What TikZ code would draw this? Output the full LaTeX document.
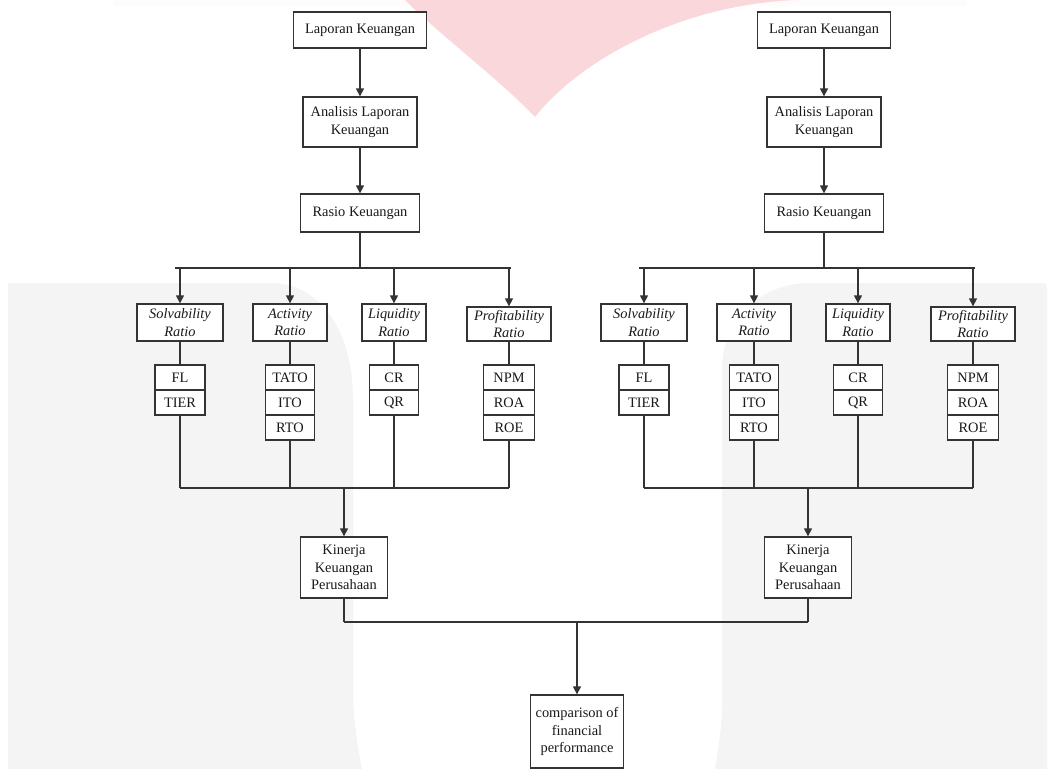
\documentclass[tikz,border=0pt]{standalone}
\usepackage{fontspec}
\setmainfont{Liberation Serif}
\usetikzlibrary{arrows.meta}
\definecolor{wmpink}{RGB}{250,215,219}
\definecolor{wmgray}{RGB}{244,244,244}
\begin{document}
\begin{tikzpicture}[x=0.75pt,y=-0.75pt,
  bx/.style={draw=black!80, line width=1pt, fill=white, inner sep=1pt, align=center,
    text=black!90, font=\fontsize{10.8}{13}\selectfont},
  itbx/.style={bx, font=\fontsize{10.8}{13}\selectfont\itshape},
  sz/.style 2 args={minimum width=#1*0.75pt, minimum height=#2*0.75pt},
  ln/.style={draw=black!80, line width=1pt},
  arr/.style={ln, -{Triangle[length=6pt,width=6pt]}},
]
% canvas and watermark
\useasboundingbox (0,0) rectangle (1052,769);
\fill[white] (0,0) rectangle (1052,769);
\fill[wmpink!10] (114,0) rectangle (966,6);
\fill[wmpink] (405,0) .. controls (440,35) and (500,80) .. (535,117)
  .. controls (580,60) and (680,5) .. (795,0) -- cycle;
\fill[wmgray] (8,769) -- (8,283) -- (270,283) .. controls (320,283) and (353,330) .. (353,400)
  -- (353,700) .. controls (355,730) and (358,750) .. (362,769) -- cycle;
\fill[wmgray] (715,769) .. controls (718,750) and (722,730) .. (722,700) -- (722,370)
  .. controls (722,320) and (760,283) .. (810,283) -- (1042,283)
  .. controls (1045,283) and (1047,285) .. (1047,288) -- (1047,769) -- cycle;

\foreach \s/\d in {L/0,R/464}{
\begin{scope}[xshift=\d*0.75pt]
  \node[bx,sz={133}{36}] (\s-lap) at (360,30) {Laporan Keuangan};
  \node[bx,sz={114}{50}] (\s-ana) at (360,122) {Analisis Laporan\\Keuangan};
  \node[bx,sz={119}{38}] (\s-ras) at (360,213) {Rasio Keuangan};
  \draw[arr] (\s-lap) -- (\s-ana);
  \draw[arr] (\s-ana) -- (\s-ras);
  \coordinate (\s-ha) at (175,268);
  \coordinate (\s-hb) at (511,268);
  \coordinate (\s-hm) at (360,268);
  \draw[ln] (\s-ras) -- (\s-hm);
  \draw[ln] (\s-ha) -- (\s-hb);
  \node[itbx,sz={86}{37}] (\s-sol) at (180,322.5) {Solvability\\Ratio};
  \node[itbx,sz={74}{37}] (\s-act) at (290,322.5) {Activity\\Ratio};
  \node[itbx,sz={64}{37}] (\s-liq) at (394,322.5) {Liquidity\\Ratio};
  \node[itbx,sz={84}{34}] (\s-pro) at (509,324) {Profitability\\Ratio};
  \draw[arr] (\s-sol |- \s-ha) -- (\s-sol);
  \draw[arr] (\s-act |- \s-ha) -- (\s-act);
  \draw[arr] (\s-liq |- \s-ha) -- (\s-liq);
  \draw[arr] (\s-pro |- \s-ha) -- (\s-pro);
  % sub cells
  \node[bx,sz={50}{25}] (\s-fl) at (180,377.5) {FL};
  \node[bx,sz={50}{25}] (\s-tier) at (180,402.5) {TIER};
  \node[bx,sz={49}{25}] (\s-tato) at (290,377.5) {TATO};
  \node[bx,sz={49}{25}] (\s-ito) at (290,402.5) {ITO};
  \node[bx,sz={49}{25}] (\s-rto) at (290,427.5) {RTO};
  \node[bx,sz={49}{25}] (\s-cr) at (394,377.5) {CR};
  \node[bx,sz={49}{25}] (\s-qr) at (394,402.5) {QR};
  \node[bx,sz={51}{25}] (\s-npm) at (509,377.5) {NPM};
  \node[bx,sz={51}{25}] (\s-roa) at (509,402.5) {ROA};
  \node[bx,sz={51}{25}] (\s-roe) at (509,427.5) {ROE};
  \draw[ln] (\s-sol) -- (\s-fl);
  \draw[ln] (\s-act) -- (\s-tato);
  \draw[ln] (\s-liq) -- (\s-cr);
  \draw[ln] (\s-pro) -- (\s-npm);
  % collect
  \coordinate (\s-ba) at (180,488);
  \coordinate (\s-bb) at (509,488);
  \draw[ln] (\s-tier) -- (\s-tier |- \s-ba);
  \draw[ln] (\s-rto) -- (\s-rto |- \s-ba);
  \draw[ln] (\s-qr) -- (\s-qr |- \s-ba);
  \draw[ln] (\s-roe) -- (\s-roe |- \s-ba);
  \draw[ln] (\s-ba) -- (\s-bb);
  \node[bx,sz={87}{61}] (\s-kin) at (344,567.5) {Kinerja\\Keuangan\\Perusahaan};
  \draw[arr] (\s-kin |- \s-ba) -- (\s-kin);
  \coordinate (\s-kb) at (344,622);
  \draw[ln] (\s-kin) -- (\s-kb);
\end{scope}
}
\draw[ln] (L-kb) -- (R-kb);
\node[bx,sz={93}{73}] (cmp) at (577,731.5) {comparison of\\financial\\performance};
\draw[arr] (cmp |- L-kb) -- (cmp);
\end{tikzpicture}
\end{document}
